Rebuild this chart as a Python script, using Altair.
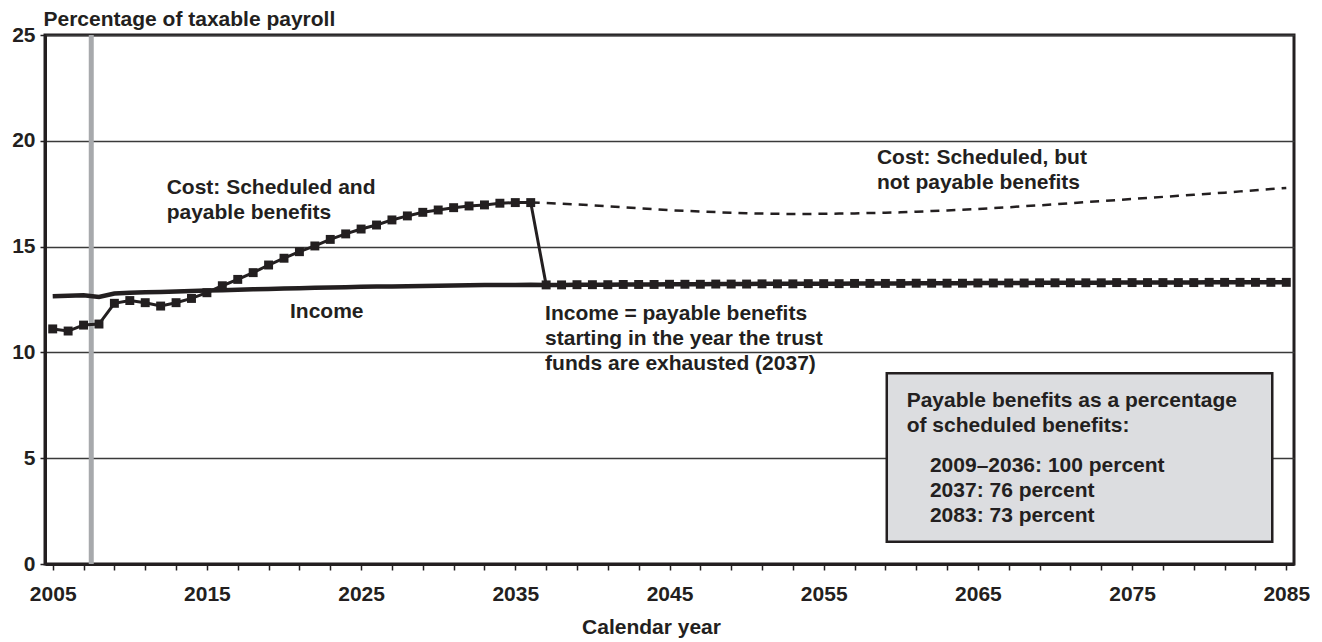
import altair as alt
import pandas as pd

# ---------------- data ----------------
years_early = list(range(2005, 2037))
cost_scheduled_early = [11.11, 11.01, 11.29, 11.34, 12.32, 12.45, 12.35, 12.19, 12.35, 12.55,
                        12.82, 13.15, 13.45, 13.77, 14.13, 14.45, 14.76, 15.03, 15.34, 15.60,
                        15.83, 16.02, 16.26, 16.45, 16.62, 16.73, 16.84, 16.92, 16.97, 17.05,
                        17.08, 17.08]
income_early = [12.65, 12.68, 12.70, 12.62, 12.78, 12.82, 12.84, 12.86, 12.88, 12.90,
                12.92, 12.94, 12.96, 12.98, 13.00, 13.02, 13.03, 13.05, 13.07, 13.08,
                13.10, 13.11, 13.12, 13.13, 13.14, 13.15, 13.16, 13.17, 13.18, 13.18,
                13.19, 13.20]
years_late = list(range(2037, 2086))
payable_late = [13.19, 13.19, 13.20, 13.20, 13.20, 13.21, 13.21, 13.21, 13.22, 13.22,
                13.22, 13.23, 13.23, 13.23, 13.24, 13.24, 13.24, 13.25, 13.25, 13.25,
                13.26, 13.26, 13.26, 13.26, 13.27, 13.27, 13.27, 13.27, 13.28, 13.28,
                13.28, 13.28, 13.29, 13.29, 13.29, 13.29, 13.29, 13.30, 13.30, 13.30,
                13.30, 13.30, 13.30, 13.31, 13.31, 13.31, 13.31, 13.31, 13.31]
years_sched = list(range(2036, 2086))
cost_scheduled_late = [17.08, 17.06, 17.03, 16.99, 16.95, 16.90, 16.86, 16.81, 16.77, 16.72,
                       16.69, 16.66, 16.63, 16.60, 16.58, 16.56, 16.55, 16.54, 16.54, 16.55,
                       16.56, 16.57, 16.59, 16.60, 16.62, 16.65, 16.68, 16.71, 16.74, 16.78,
                       16.82, 16.86, 16.91, 16.95, 17.00, 17.05, 17.10, 17.15, 17.20, 17.25,
                       17.30, 17.35, 17.40, 17.45, 17.50, 17.55, 17.61, 17.66, 17.72, 17.77]
tick_years = list(range(2005, 2086, 2))
y_ticks = [0, 5, 10, 15, 20, 25]
marker_year = [2007.5]

INK = "#231f20"
FONT = "Liberation Sans"
FS = 21

cost_df = pd.DataFrame({"year": years_early + years_late,
                        "value": cost_scheduled_early + payable_late})
income_df = pd.DataFrame({"year": years_early + years_late,
                          "value": income_early + payable_late})
sched_df = pd.DataFrame({"year": years_sched, "value": cost_scheduled_late})
marker_df = pd.DataFrame({"year": marker_year})
dummy = pd.DataFrame({"d": [0]})

x_scale = alt.Scale(domain=[2004.5, 2085.5], nice=False, zero=False)
y_scale = alt.Scale(domain=[0, 25], nice=False, zero=True)

x_axis = alt.Axis(values=tick_years, format="d",
                  labelExpr="datum.value % 10 == 5 ? datum.label : ''",
                  labelOverlap=False, grid=False,
                  tickSize=6, tickWidth=1.5, tickColor=INK,
                  domainColor=INK, domainWidth=3,
                  labelFont=FONT, labelFontSize=FS, labelFontWeight=700,
                  labelColor=INK, labelPadding=13, labelBaseline="top",
                  title="Calendar year", titleFont=FONT, titleFontSize=FS,
                  titleFontWeight=700, titleColor=INK,
                  titleX=606, titleY=69, titleAlign="center",
                  titleBaseline="alphabetic")
y_axis = alt.Axis(values=y_ticks, grid=True, gridColor="#3a3a3a", gridWidth=1.5,
                  tickSize=5, tickWidth=1.5, tickColor=INK,
                  domainColor=INK, domainWidth=3,
                  labelFont=FONT, labelFontSize=FS, labelFontWeight=700,
                  labelColor=INK, labelPadding=5,
                  title="Percentage of taxable payroll", titleFont=FONT,
                  titleFontSize=FS, titleFontWeight=700, titleColor=INK,
                  titleAngle=0, titleAlign="left", titleBaseline="alphabetic",
                  titleX=-2, titleY=-10)


def X(field=None, datum=None):
    if datum is not None:
        return alt.X(datum=datum, type="quantitative", scale=x_scale, axis=x_axis)
    return alt.X(field, type="quantitative", scale=x_scale, axis=x_axis)


def Y(field=None, datum=None):
    if datum is not None:
        return alt.Y(datum=datum, type="quantitative", scale=y_scale, axis=y_axis)
    return alt.Y(field, type="quantitative", scale=y_scale, axis=y_axis)


marker = alt.Chart(marker_df).mark_rule(color="#a7a9ac", strokeWidth=5).encode(
    x=X("year"), y=Y(datum=0), y2=alt.Y2(datum=25)
)

box = alt.Chart(dummy).mark_rect(fill="#dcdde0", stroke=INK, strokeWidth=2.5).encode(
    x=X(datum=2059.09), x2=alt.X2(datum=2084.09),
    y=Y(datum=9.01), y2=alt.Y2(datum=1.05),
)

income_line = alt.Chart(income_df).mark_line(color=INK, strokeWidth=4.5).encode(
    x=X("year"), y=Y("value")
)

cost_line = alt.Chart(cost_df).mark_line(color=INK, strokeWidth=3).encode(
    x=X("year"), y=Y("value")
)

sched_line = alt.Chart(sched_df).mark_line(color=INK, strokeWidth=2.5,
                                           strokeDash=[9, 7]).encode(
    x=X("year"), y=Y("value")
)

cost_points = alt.Chart(cost_df).mark_point(shape="square", filled=True, size=80,
                                            color=INK, opacity=1).encode(
    x=X("year"), y=Y("value")
)


def label(lines, x, y):
    return alt.Chart(dummy).mark_text(
        text=lines, align="left", baseline="alphabetic", font=FONT,
        fontSize=FS, fontWeight=700, color=INK, lineHeight=25,
    ).encode(x=X(datum=x), y=Y(datum=y))


labels = [
    label(["Cost: Scheduled and", "payable benefits"], 2012.39, 17.49),
    label(["Income"], 2020.39, 11.61),
    label(["Income = payable benefits", "starting in the year the trust",
           "funds are exhausted (2037)"], 2036.93, 11.53),
    label(["Cost: Scheduled, but", "not payable benefits"], 2058.45, 18.90),
    label(["Payable benefits as a percentage", "of scheduled benefits:"], 2060.38, 7.43),
    label(["2009\u20132036: 100 percent", "2037: 76 percent", "2083: 73 percent"],
          2061.89, 4.36),
]

chart = alt.layer(
    marker, income_line, cost_line, sched_line, cost_points, box, *labels
).properties(
    width=1249, height=529,
    autosize=alt.AutoSizeParams(type="none"),
    padding={"left": 37, "top": 27, "right": 16, "bottom": 80},
).configure_view(stroke=INK, strokeWidth=3)

chart.save("out.html", embed_options={"renderer": "svg", "actions": False})
